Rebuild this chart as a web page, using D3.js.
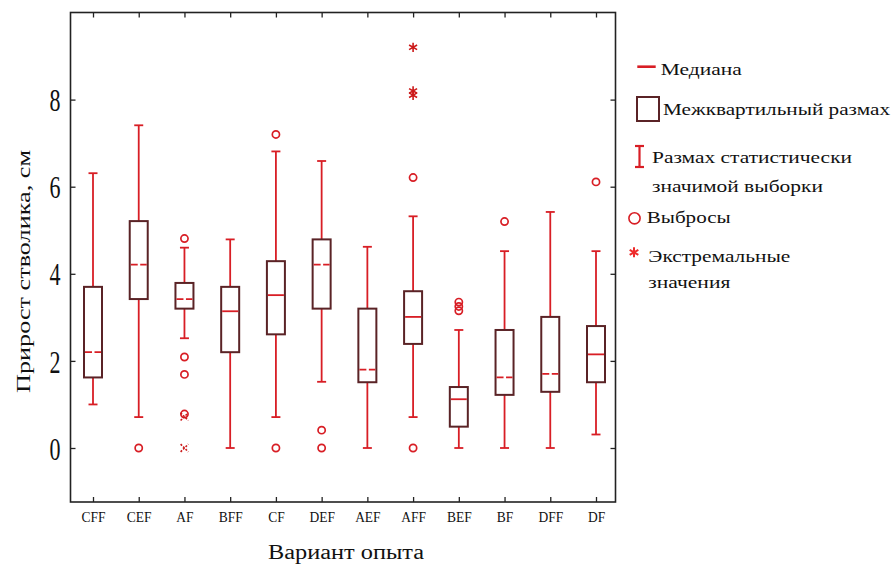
<!DOCTYPE html>
<html>
<head>
<meta charset="utf-8">
<script src="https://cdn.jsdelivr.net/npm/d3@7"></script>
<style>
  body { margin: 0; background: #fff; }
  text { font-family: "Liberation Serif", "Times New Roman", serif; fill: #111; }
</style>
</head>
<body>
<svg id="chart" width="894" height="565"></svg>
<script>
// ########## Data ##########
categories = ["CFF", "CEF", "AF", "BFF", "CF", "DEF", "AEF", "AFF", "BEF", "BF", "DFF", "DF"];
whiskerLow  = [1.0, 0.71, 2.52, 0.0, 0.71, 1.52, 0.0, 0.71, 0.0, 0.0, 0.0, 0.31];
q1          = [1.62, 3.42, 3.2, 2.2, 2.61, 3.2, 1.51, 2.39, 0.49, 1.22, 1.29, 1.51];
medians     = [2.2, 4.21, 3.42, 3.14, 3.51, 4.21, 1.8, 3.01, 1.12, 1.62, 1.7, 2.15];
q3          = [3.7, 5.21, 3.79, 3.7, 4.29, 4.79, 3.2, 3.6, 1.4, 2.71, 3.01, 2.8];
whiskerHigh = [6.31, 7.41, 4.6, 4.79, 6.81, 6.59, 4.62, 5.32, 2.71, 4.52, 5.42, 4.52];
// median drawn with a small gap in the middle (as in the scan)
medianGap   = [true, true, true, false, false, true, true, false, false, true, true, false];

outliers = [
  ["CEF", 0], ["AF", 4.81], ["AF", 2.09], ["AF", 1.69], ["AF", 0.78],
  ["CF", 7.2], ["CF", 0], ["DEF", 0.41], ["DEF", 0], ["AFF", 6.21], ["AFF", 0],
  ["BEF", 3.35], ["BEF", 3.25], ["BEF", 3.15], ["BF", 5.2], ["DF", 6.11]
];
extremes = [
  ["AF", 0.72, "times"], ["AF", 0, "times"],
  ["AFF", 9.2, "asterisk"], ["AFF", 8.2, "asterisk"], ["AFF", 8.1, "asterisk"]
];
yTicks = [0, 2, 4, 6, 8];

legendItems = [
  { type: "median", lines: ["Медиана"], widths: [81] },
  { type: "box", lines: ["Межквартильный размах"], widths: [227] },
  { type: "range", lines: ["Размах статистически", "значимой выборки"], widths: [200, 171] },
  { type: "outlier", lines: ["Выбросы"], widths: [84] },
  { type: "extreme", lines: ["Экстремальные", "значения"], widths: [142, 82] }
];

red = "#d81e25";
boxColor = "#5a2326";
axisColor = "#222";

svg = d3.select("#chart");

// ########## Scales ##########
x = d3.scalePoint().domain(categories).range([93, 596]);
y = d3.scaleLinear().domain([-1.24, 10]).range([502, 12.5]);

var frameLeft = 70.5, frameRight = 615.5, frameTop = 12.5, frameBottom = 502;

// ########## Axes ##########
gLeft = svg.append("g").attr("transform", "translate(" + frameLeft + ",0)")
    .call(d3.axisLeft(y).tickValues(yTicks).tickSize(-5).tickSizeOuter(0).tickPadding(10));
gRight = svg.append("g").attr("transform", "translate(" + frameRight + ",0)")
    .call(d3.axisRight(y).tickValues(yTicks).tickSize(-5).tickSizeOuter(0).tickFormat(""));
gTop = svg.append("g").attr("transform", "translate(0," + frameTop + ")")
    .call(d3.axisTop(x).tickSize(-5).tickSizeOuter(0).tickFormat(""));
gBottom = svg.append("g").attr("transform", "translate(0," + frameBottom + ")")
    .call(d3.axisBottom(x).tickSize(-5).tickSizeOuter(0).tickPadding(9));

[gLeft, gRight, gTop, gBottom].forEach(function (g) {
    g.select(".domain").remove();
    g.selectAll(".tick line").attr("stroke", axisColor).attr("stroke-width", 1.3);
});

gLeft.selectAll(".tick text")
    .attr("font-size", 22)
    .attr("fill", "#111")
    .attr("font-family", "Liberation Serif")
    .attr("dy", "0.35em")
    .attr("transform", "scale(1,1.45)");

gBottom.selectAll(".tick text")
    .attr("font-size", 13.5)
    .attr("fill", "#111")
    .attr("font-family", "Liberation Serif")
    .attr("y", 0)
    .attr("dy", 0)
    .attr("transform", "translate(0,19.5) scale(1,1.15)");

// frame
svg.append("rect")
    .attr("x", frameLeft).attr("y", frameTop)
    .attr("width", frameRight - frameLeft).attr("height", frameBottom - frameTop)
    .attr("fill", "none").attr("stroke", axisColor).attr("stroke-width", 1.6);

// ########## Boxes ##########
boxW = 18, capW = 9;
boxes = svg.append("g").selectAll("g").data(categories).join("g")
    .attr("transform", function (d) { return "translate(" + x(d) + ",0)"; });

// whiskers
boxes.append("line")
    .attr("y1", function (d, i) { return y(q3[i]); })
    .attr("y2", function (d, i) { return y(whiskerHigh[i]); })
    .attr("stroke", red).attr("stroke-width", 1.8);
boxes.append("line")
    .attr("y1", function (d, i) { return y(q1[i]); })
    .attr("y2", function (d, i) { return y(whiskerLow[i]); })
    .attr("stroke", red).attr("stroke-width", 1.8);
boxes.append("line")
    .attr("x1", -capW / 2).attr("x2", capW / 2)
    .attr("y1", function (d, i) { return y(whiskerHigh[i]); })
    .attr("y2", function (d, i) { return y(whiskerHigh[i]); })
    .attr("stroke", red).attr("stroke-width", 1.8);
boxes.append("line")
    .attr("x1", -capW / 2).attr("x2", capW / 2)
    .attr("y1", function (d, i) { return y(whiskerLow[i]); })
    .attr("y2", function (d, i) { return y(whiskerLow[i]); })
    .attr("stroke", red).attr("stroke-width", 1.8);

// box
boxes.append("rect")
    .attr("x", -boxW / 2).attr("width", boxW)
    .attr("y", function (d, i) { return y(q3[i]); })
    .attr("height", function (d, i) { return y(q1[i]) - y(q3[i]); })
    .attr("fill", "none").attr("stroke", boxColor).attr("stroke-width", 2);

// median
boxes.append("line")
    .attr("x1", -boxW / 2 + 1).attr("x2", boxW / 2 - 1)
    .attr("y1", function (d, i) { return y(medians[i]); })
    .attr("y2", function (d, i) { return y(medians[i]); })
    .attr("stroke", red).attr("stroke-width", 1.8)
    .attr("stroke-dasharray", function (d, i) { return medianGap[i] ? "7,2.5,7" : null; });

// outliers
svg.append("g").selectAll("circle").data(outliers).join("circle")
    .attr("cx", function (d) { return x(d[0]); })
    .attr("cy", function (d) { return y(d[1]); })
    .attr("r", 3.6)
    .attr("fill", "none").attr("stroke", red).attr("stroke-width", 1.7);

// extremes
svg.append("g").selectAll("path").data(extremes).join("path")
    .attr("transform", function (d) { return "translate(" + x(d[0]) + "," + y(d[1]) + ")"; })
    .attr("d", function (d) {
        return d3.symbol().type(d[2] == "times" ? d3.symbolTimes : d3.symbolAsterisk).size(d[2] == "times" ? 40 : 60)();
    })
    .attr("fill", "none").attr("stroke", "#cc1a1a").attr("stroke-width", 1.6)
    .attr("stroke-dasharray", function (d) { return d[2] == "times" ? "2,1.5" : null; });

// ########## Axis titles ##########
svg.append("text")
    .attr("x", 0).attr("y", 0)
    .attr("transform", "translate(30,271.5) rotate(-90)")
    .attr("text-anchor", "middle")
    .attr("font-size", 19)
    .attr("textLength", 243).attr("lengthAdjust", "spacingAndGlyphs")
    .text("Прирост стволика, см");

svg.append("text")
    .attr("x", 268).attr("y", 559)
    .attr("font-size", 20)
    .attr("textLength", 156).attr("lengthAdjust", "spacingAndGlyphs")
    .text("Вариант опыта");

// ########## Legend ##########
legendBaselines = [[75], [115], [163.3, 191.7], [223.3], [261.7, 288.3]];
legendX = [660.7, 663, 652, 646.7, 648.3];
legend = svg.append("g");

legendItems.forEach(function (item, i) {
    item.lines.forEach(function (line, j) {
        legend.append("text")
            .attr("x", legendX[i]).attr("y", legendBaselines[i][j])
            .attr("font-size", 17.5)
            .attr("textLength", item.widths[j]).attr("lengthAdjust", "spacingAndGlyphs")
            .text(line);
    });
});

legend.append("line")
    .attr("x1", 637.3).attr("x2", 655.7).attr("y1", 66.7).attr("y2", 66.7)
    .attr("stroke", red).attr("stroke-width", 2.6);
legend.append("rect")
    .attr("x", 637).attr("y", 97).attr("width", 22).attr("height", 24)
    .attr("fill", "none").attr("stroke", boxColor).attr("stroke-width", 2);
legend.append("line")
    .attr("x1", 639.5).attr("x2", 639.5).attr("y1", 146).attr("y2", 167)
    .attr("stroke", red).attr("stroke-width", 2.2);
legend.append("line")
    .attr("x1", 635).attr("x2", 644).attr("y1", 146).attr("y2", 146)
    .attr("stroke", red).attr("stroke-width", 2.2);
legend.append("line")
    .attr("x1", 635).attr("x2", 644).attr("y1", 167).attr("y2", 167)
    .attr("stroke", red).attr("stroke-width", 2.2);
legend.append("circle")
    .attr("cx", 634.5).attr("cy", 218.3).attr("r", 5.6)
    .attr("fill", "none").attr("stroke", red).attr("stroke-width", 1.6);
legend.append("path")
    .attr("transform", "translate(634,252.3)")
    .attr("d", d3.symbol().type(d3.symbolAsterisk).size(70)())
    .attr("fill", "none").attr("stroke", "#ee2b2b").attr("stroke-width", 2);
</script>
</body>
</html>
